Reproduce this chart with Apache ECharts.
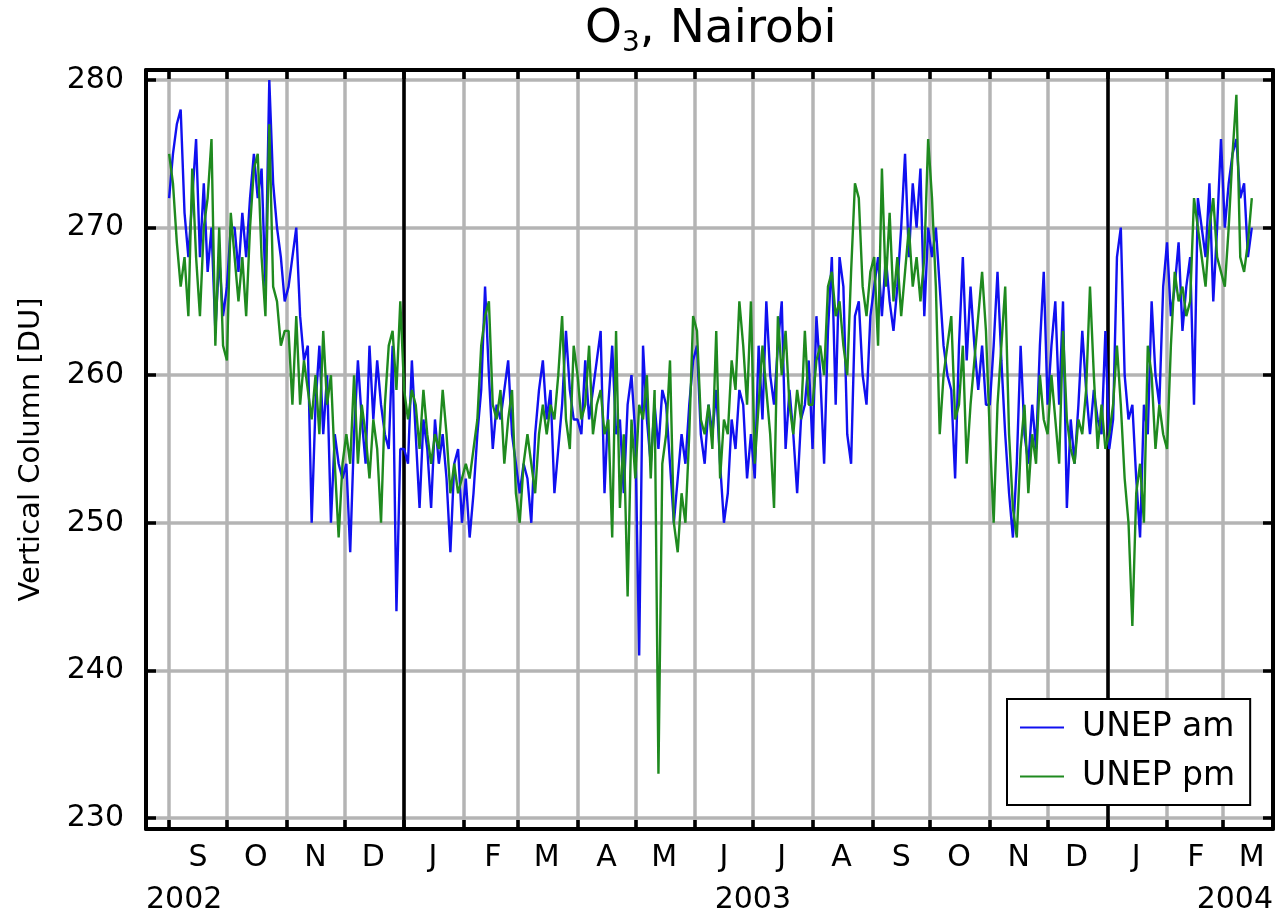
<!DOCTYPE html>
<html><head><meta charset="utf-8">
<script src="https://cdn.jsdelivr.net/npm/echarts@6/dist/echarts.min.js"></script>
<style>html,body{margin:0;padding:0;background:#fff}#c{width:1278px;height:917px}</style>
</head><body><div id="c"></div>
<script>
// first sample: 1 Sep 2002, one sample every 2 days
const startDate = [2002, 8, 1];
const stepDays = 2;
const amValues = [
 272,275,277,278,271,268,272,276,268,273,267,270,263,268,264,            // Sep 02
 266,270,270,267,271,268,272,275,272,274,266,280,273,270,268,265,        // Oct 02
 266,268,270,264,261,262,250,258,262,256,260,250,256,254,253,            // Nov 02
 254,248,256,261,257,254,262,257,261,258,256,255,262,244,255,            // Dec 02
 255,254,261,256,251,257,255,251,257,254,256,253,248,254,255,250,        // Jan 03
 253,249,252,256,259,266,260,255,258,257,259,261,256,254,                // Feb 03
 252,254,253,250,256,259,261,257,259,252,255,258,263,259,257,            // Mar 03
 257,256,261,257,259,261,263,252,258,262,256,257,252,258,260,            // Apr 03
 256,241,262,257,254,258,255,259,258,254,250,253,256,254,258,261,        // May 03
 262,256,254,258,256,259,254,250,252,257,255,259,258,253,256,            // Jun 03
 253,262,257,265,260,258,262,265,255,259,256,252,257,258,261,            // Jul 03
 255,264,260,254,263,268,258,268,266,256,254,264,265,260,258,264,        // Aug 03
 266,268,264,268,265,263,266,270,275,268,273,270,274,264,270,            // Sep 03
 268,270,266,262,260,259,253,262,268,261,266,262,259,262,258,            // Oct 03
 258,262,267,261,256,252,249,254,262,256,254,258,255,262,267,            // Nov 03
 258,262,265,258,265,251,257,254,258,263,259,256,259,257,256,263,        // Dec 03
 255,257,268,270,260,257,258,253,249,258,256,265,260,258,266,            // Jan 04
 269,264,266,269,263,266,268,258,272,270,268,273,265,270,276,            // Feb 04
 270,273,275,276,272,273,268,270                                         // Mar 04
];
const pmValues = [
 275,273,269,266,268,264,274,268,264,270,272,276,262,270,262,
 261,271,268,265,268,264,270,274,275,268,264,277,266,265,262,263,
 263,258,264,258,261,259,257,260,256,263,258,260,254,249,254,
 256,254,260,254,258,256,253,257,255,250,258,262,263,259,265,
 259,257,259,258,255,259,256,254,256,255,259,256,252,254,252,253,
 254,253,255,257,262,264,265,258,257,259,254,257,259,252,
 250,254,256,254,252,256,258,256,258,257,260,264,257,255,262,
 260,257,258,262,256,258,259,256,257,249,263,251,256,245,257,
 253,258,257,260,253,259,233,254,256,261,250,248,252,250,256,264,
 263,257,256,258,255,263,253,257,256,261,259,265,262,258,265,
 254,258,262,259,256,251,264,260,263,258,256,259,257,263,258,
 258,261,262,260,266,267,264,265,262,260,267,273,272,266,264,267,
 268,262,274,266,271,265,268,264,267,270,266,268,265,268,276,
 272,266,256,260,262,264,257,258,262,254,258,261,264,267,263,
 256,250,258,262,266,256,251,249,255,258,252,256,254,260,257,
 256,260,257,254,263,257,255,254,257,256,259,266,260,255,258,255,
 256,258,262,258,253,250,243,252,254,250,262,260,255,258,256,
 255,262,267,265,266,264,265,272,270,268,266,270,272,268,267,
 266,270,275,279,268,267,269,272
];
const seriesNames = ['UNEP am', 'UNEP pm'];
const yTicks = [230, 240, 250, 260, 270, 280];
const monthLetters = ['J','F','M','A','M','J','J','A','S','O','N','D'];
const yearLabels = ['2002', '2003', '2004'];
const xMin = new Date(2002, 7, 20).getTime();
const xMax = new Date(2004, 2, 27).getTime();
const yMin = 229.25, yMax = 280.68;

const dates = amValues.map((_, i) => new Date(startDate[0], startDate[1], startDate[2] + i * stepDays).getTime());
const amData = amValues.map((v, i) => [dates[i], v]);
const pmData = pmValues.map((v, i) => [dates[i], v]);

const monthStarts = [], monthMids = [];
for (let k = 0; k < 22; k++) {
  const s = new Date(2002, 7 + k, 1).getTime();
  const m = new Date(2002, 7 + k, 16).getTime();
  if (s > xMin && s < xMax) monthStarts.push(s);
  if (m > xMin && m < xMax) monthMids.push(m);
}
const yearStarts = [new Date(2003, 0, 1).getTime(), new Date(2004, 0, 1).getTime()];
const yearLabelPos = [xMin, new Date(2003, 6, 1).getTime(), xMax];

const FONT = 'DejaVu Sans';
const GRID_GREY = '#b4b4b4';

const chart = echarts.init(document.getElementById('c'), null, {renderer: 'canvas'});
chart.setOption({
  animation: false,
  backgroundColor: '#fff',
  title: {
    text: 'O{sub|3}, Nairobi',
    left: 585, top: 2, padding: 0,
    textStyle: {
      fontFamily: FONT, fontSize: 47, fontWeight: 'normal', color: '#000', lineHeight: 56,
      rich: { sub: { fontFamily: FONT, fontSize: 28, lineHeight: 28, verticalAlign: 'bottom', color: '#000' } }
    }
  },
  legend: {
    data: seriesNames,
    orient: 'vertical',
    left: 1007, top: 699,
    padding: [12, 15, 12, 13],
    backgroundColor: '#fff',
    borderColor: '#000', borderWidth: 2,
    icon: 'rect', itemWidth: 44, itemHeight: 2, itemGap: 16,
    textStyle: { fontFamily: FONT, fontSize: 33, color: '#000', lineHeight: 32, padding: [0, 0, 0, 13] }
  },
  grid: { left: 146, right: 5, top: 70, bottom: 88, containLabel: false },
  xAxis: [
    {
      type: 'value', min: xMin, max: xMax, position: 'bottom',
      axisLine: { show: true, lineStyle: { color: '#000', width: 4 } },
      axisTick: { show: true, inside: true, length: 9, customValues: monthStarts, lineStyle: { color: '#000', width: 3.5 } },
      splitLine: { show: true, lineStyle: { color: GRID_GREY, width: 3.5 } },
      axisLabel: {
        show: true, customValues: monthMids, margin: 14,
        fontFamily: FONT, fontSize: 30, color: '#000',
        formatter: v => monthLetters[new Date(v).getMonth()]
      }
    },
    {
      type: 'value', min: xMin, max: xMax, position: 'top',
      axisLine: { show: true, lineStyle: { color: '#000', width: 4 } },
      axisTick: { show: true, inside: true, length: 9, customValues: monthStarts, lineStyle: { color: '#000', width: 3.5 } },
      splitLine: { show: false },
      axisLabel: { show: false }
    },
    {
      type: 'value', min: xMin, max: xMax, position: 'bottom',
      axisLine: { show: false },
      axisTick: { show: false, customValues: yearStarts },
      splitLine: { show: true, lineStyle: { color: '#000', width: 3.5 } },
      axisLabel: {
        show: true, customValues: yearLabelPos, margin: 56,
        showMinLabel: true, showMaxLabel: true,
        alignMinLabel: 'left', alignMaxLabel: 'right',
        fontFamily: FONT, fontSize: 30, color: '#000',
        formatter: v => yearLabels[yearLabelPos.indexOf(v)] || String(new Date(v).getFullYear())
      }
    }
  ],
  yAxis: [
    {
      type: 'value', min: yMin, max: yMax, position: 'left',
      name: 'Vertical Column [DU]', nameLocation: 'middle', nameGap: 100,
      nameTextStyle: { fontFamily: FONT, fontSize: 29, color: '#000' },
      axisLine: { show: true, lineStyle: { color: '#000', width: 4 } },
      axisTick: { show: true, inside: true, length: 10, customValues: yTicks, lineStyle: { color: '#000', width: 3.5 } },
      splitLine: { show: true, lineStyle: { color: GRID_GREY, width: 3.5 } },
      axisLabel: { show: true, customValues: yTicks, margin: 22, fontFamily: FONT, fontSize: 30, color: '#000' }
    },
    {
      type: 'value', min: yMin, max: yMax, position: 'right',
      axisLine: { show: true, lineStyle: { color: '#000', width: 4 } },
      axisTick: { show: true, inside: true, length: 10, customValues: yTicks, lineStyle: { color: '#000', width: 3.5 } },
      splitLine: { show: false },
      axisLabel: { show: false }
    }
  ],
  series: [
    {
      name: seriesNames[0], type: 'line', xAxisIndex: 0, yAxisIndex: 0,
      data: amData, showSymbol: false, symbol: 'none',
      color: '#1010f0', lineStyle: { color: '#1010f0', width: 2.4 }, z: 3
    },
    {
      name: seriesNames[1], type: 'line', xAxisIndex: 0, yAxisIndex: 0,
      data: pmData, showSymbol: false, symbol: 'none',
      color: '#1f8a1f', lineStyle: { color: '#1f8a1f', width: 2.4 }, z: 4
    }
  ]
});
</script>
</body></html>
